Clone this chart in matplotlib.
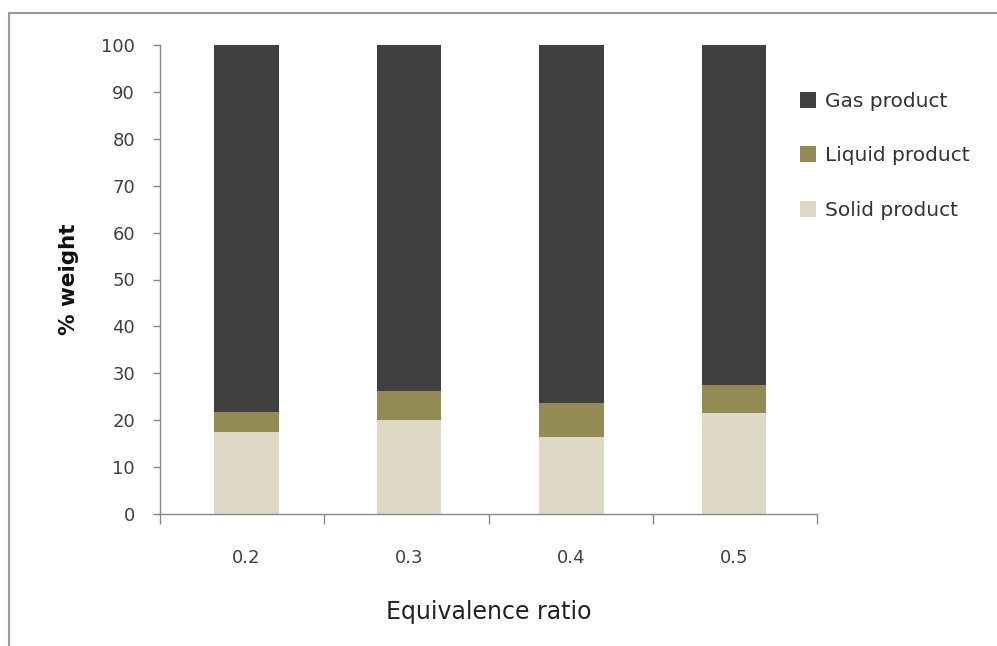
import matplotlib
matplotlib.use("Agg")
import matplotlib.pyplot as plt
from matplotlib.lines import Line2D
from matplotlib.patches import Patch
import numpy as np

# Product distribution (% weight) at each equivalence ratio
ratios = ["0.2", "0.3", "0.4", "0.5"]
solid = [17.5, 20.0, 16.5, 21.6]
liquid = [4.3, 6.2, 7.2, 5.8]
gas = [100 - s - l for s, l in zip(solid, liquid)]

series_names = ["Gas product", "Liquid product", "Solid product"]
colors = {"Gas product": "#404040", "Liquid product": "#948A54", "Solid product": "#DDD9C4"}

plt.rcParams["font.family"] = ["DejaVu Sans"]

fig = plt.figure(figsize=(9.97, 6.46), dpi=100)
ax = fig.add_axes([160 / 997, 1 - 514 / 646, 657 / 997, 469 / 646])

x = np.arange(len(ratios))
w = 0.397
ax.bar(x, solid, w, color=colors["Solid product"], label="Solid product")
ax.bar(x, liquid, w, bottom=solid, color=colors["Liquid product"], label="Liquid product")
ax.bar(x, gas, w, bottom=np.add(solid, liquid), color=colors["Gas product"], label="Gas product")

x0, x1 = -0.532, 3.511
ax.set_xlim(x0, x1)
ax.set_ylim(0, 100)
ax.set_yticks(np.arange(0, 101, 10))

spine_col = "#868686"
for s in ["top", "right"]:
    ax.spines[s].set_visible(False)
for s in ["left", "bottom"]:
    ax.spines[s].set_color(spine_col)
    ax.spines[s].set_linewidth(1.0)

ax.set_xticks(x)
ax.set_xticklabels(ratios)
# category divider ticks run from one end of the axis to the other
ax.set_xticks(np.linspace(x0, x1, len(ratios) + 1), minor=True)
ax.tick_params(axis="x", which="major", length=0, pad=25, labelsize=13, labelcolor="#404040")
ax.tick_params(axis="x", which="minor", length=7, color=spine_col, width=1.0)
ax.tick_params(axis="y", length=5, color=spine_col, width=1.0, pad=13, labelsize=13, labelcolor="#404040")

ax.set_ylabel("% weight", fontsize=15.5, fontweight="bold", color="#111111", labelpad=16)
ax.set_xlabel("Equivalence ratio", fontsize=17, color="#222222", labelpad=24)

handles = [Patch(facecolor=colors[n], edgecolor="none") for n in series_names]
leg = fig.legend(handles, series_names, loc="upper left", bbox_to_anchor=(782 / 997, 1 - 74 / 646),
                 frameon=False, fontsize=14.5, handlelength=0.8, handleheight=0.85,
                 handletextpad=0.45, labelspacing=1.75, labelcolor="#333333")

# Outer frame lines along the top and left edges
fig.add_artist(Line2D([9 / 997, 1], [1 - 13 / 646, 1 - 13 / 646], color="#9a9a9a", lw=1.5,
                      transform=fig.transFigure))
fig.add_artist(Line2D([9 / 997, 9 / 997], [0, 1 - 13 / 646], color="#9a9a9a", lw=1.5,
                      transform=fig.transFigure))

fig.savefig("out.png", dpi=100)
